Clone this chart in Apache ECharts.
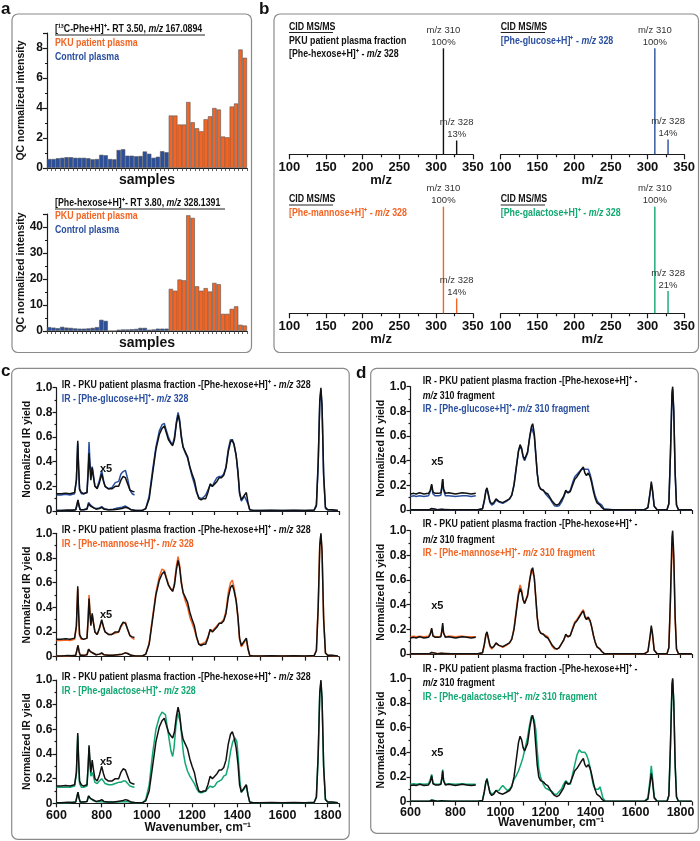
<!DOCTYPE html>
<html><head><meta charset="utf-8">
<script src="https://cdn.jsdelivr.net/npm/echarts@6/dist/echarts.min.js"></script>
<style>html,body{margin:0;padding:0;background:#fff}#c{width:700px;height:841px}</style>
</head><body><div id="c"></div><script>
// ---------------- DATA ----------------
// Panel a: QC-normalized intensities per sample
const sampleLabels = ['C1','C2','C3','C4','C5','C6','C7','C8','C9','C10','C11','C12','C13','C14','C15','C16','C17','C18','C19','C20','C21','C22','C23','C24','C25','C26','C27','C28',
  'P1','P2','P3','P4','P5','P6','P7','P8','P9','P10','P11','P12','P13','P14','P15','P16','P17','P18'];
const controlPhe13C = [0.6,0.6,0.65,0.68,0.72,0.72,0.68,0.68,0.68,0.65,0.58,0.6,0.88,0.85,0.6,0.58,1.2,1.25,0.82,0.82,0.78,0.8,1.1,0.95,0.68,0.75,1.12,1.05];
const pkuPhe13C = [3.5,3.5,2.9,2.9,4.4,3.05,2.65,2.45,3.25,3.45,4.0,3.9,2.1,2.05,4.1,4.3,7.9,7.35];
const controlHexose = [1.5,1.3,1.1,1.6,1.3,1.2,1.0,0.9,0.9,1.0,1.2,1.5,4.3,3.9,0,0,0.5,0.6,0.6,0.7,0.8,1.2,1.2,0.5,0.6,0.9,0.9,0.9];
const pkuHexose = [16.2,15.5,19.8,19.5,44.5,43.5,17.2,15.5,16.5,15.2,18.5,18,6.6,6.6,8.5,9.5,2.4,2.1];

// Panel b: CID MS/MS peaks [m/z, relative %]
const msHexose = [[310,100],[328,13]];
const msGlucose = [[310,100],[328,14]];
const msMannose = [[310,100],[328,14]];
const msGalactose = [[310,100],[328,21]];

// Panel c: IR spectra of m/z 328 [wavenumber, normalized yield]
const hexose328 = [[600,0.005],[620,0.005],[650,0.008],[670,0.006],[685,0.01],[690,0.05],[695,0.09],[700,0.04],[705,0.01],[720,0.01],[735,0.015],[742,0.06],[745,0.07],[750,0.04],[758,0.045],[765,0.025],[775,0.015],[790,0.02],[800,0.03],[810,0.015],[830,0.01],[850,0.01],[870,0.015],[890,0.02],[905,0.03],[915,0.025],[930,0.01],[950,0.005],[980,0.005],[995,0.02],[1010,0.1],[1025,0.3],[1040,0.5],[1055,0.62],[1067,0.67],[1077,0.69],[1085,0.64],[1095,0.58],[1105,0.55],[1114,0.53],[1122,0.58],[1130,0.7],[1138,0.78],[1145,0.72],[1152,0.6],[1160,0.52],[1170,0.48],[1180,0.44],[1190,0.36],[1200,0.3],[1210,0.25],[1220,0.16],[1230,0.1],[1240,0.09],[1250,0.1],[1260,0.1],[1270,0.15],[1280,0.22],[1290,0.2],[1300,0.22],[1310,0.24],[1320,0.27],[1330,0.27],[1340,0.29],[1350,0.35],[1360,0.48],[1370,0.56],[1378,0.58],[1385,0.54],[1395,0.45],[1403,0.32],[1410,0.15],[1418,0.09],[1425,0.1],[1432,0.13],[1440,0.15],[1447,0.07],[1455,0.01],[1470,0.005],[1500,0.005],[1550,0.006],[1600,0.005],[1650,0.006],[1700,0.005],[1740,0.008],[1750,0.05],[1758,0.4],[1765,0.9],[1770,1.0],[1775,0.85],[1782,0.3],[1790,0.03],[1800,0.01],[1820,0.01],[1845,0.005]];
const hexose328x5 = [[600,0.14],[620,0.14],[640,0.145],[660,0.14],[680,0.15],[688,0.25],[694,0.57],[698,0.35],[702,0.18],[710,0.15],[720,0.14],[735,0.15],[740,0.3],[744,0.47],[748,0.35],[752,0.25],[758,0.35],[763,0.28],[770,0.2],[780,0.18],[790,0.23],[800,0.3],[808,0.24],[815,0.2],[830,0.18],[845,0.18],[860,0.2],[875,0.2],[885,0.25],[895,0.28],[905,0.27],[915,0.22],[925,0.17],[935,0.16],[945,0.155]];
const glucose328 = [[600,0.005],[650,0.005],[685,0.01],[690,0.04],[695,0.085],[700,0.04],[705,0.01],[720,0.01],[735,0.02],[742,0.07],[745,0.085],[750,0.05],[758,0.045],[765,0.025],[775,0.02],[790,0.025],[800,0.035],[810,0.02],[830,0.01],[850,0.015],[870,0.025],[890,0.03],[905,0.04],[915,0.03],[930,0.01],[950,0.005],[980,0.005],[995,0.02],[1010,0.12],[1025,0.33],[1040,0.52],[1055,0.65],[1067,0.7],[1077,0.71],[1085,0.66],[1095,0.6],[1105,0.56],[1114,0.54],[1122,0.6],[1130,0.72],[1138,0.8],[1145,0.74],[1152,0.62],[1160,0.52],[1170,0.47],[1180,0.43],[1190,0.35],[1200,0.28],[1210,0.22],[1220,0.15],[1230,0.11],[1240,0.1],[1250,0.11],[1260,0.13],[1270,0.17],[1280,0.21],[1290,0.2],[1300,0.24],[1310,0.27],[1320,0.28],[1330,0.28],[1340,0.3],[1350,0.36],[1360,0.5],[1370,0.58],[1378,0.59],[1385,0.55],[1395,0.45],[1403,0.3],[1410,0.14],[1418,0.08],[1425,0.09],[1432,0.12],[1440,0.13],[1447,0.06],[1455,0.01],[1470,0.005],[1550,0.004],[1650,0.005],[1740,0.006],[1750,0.04],[1758,0.38],[1765,0.88],[1770,0.98],[1775,0.85],[1782,0.28],[1790,0.02],[1800,0.01],[1845,0.004]];
const glucose328x5 = [[600,0.13],[620,0.13],[640,0.135],[660,0.13],[680,0.14],[688,0.25],[694,0.55],[698,0.33],[702,0.17],[710,0.14],[720,0.14],[735,0.15],[740,0.35],[744,0.56],[748,0.4],[752,0.3],[758,0.36],[763,0.3],[770,0.2],[780,0.19],[790,0.25],[800,0.33],[808,0.25],[815,0.2],[830,0.18],[845,0.19],[860,0.23],[875,0.24],[885,0.3],[895,0.32],[905,0.33],[915,0.26],[925,0.17],[935,0.14],[945,0.13]];
const mannose328 = [[600,0.005],[650,0.005],[685,0.01],[690,0.05],[695,0.09],[700,0.04],[705,0.01],[720,0.01],[735,0.015],[742,0.06],[745,0.075],[750,0.04],[758,0.04],[765,0.025],[775,0.015],[790,0.02],[800,0.025],[810,0.015],[830,0.01],[850,0.01],[870,0.015],[890,0.02],[905,0.03],[915,0.025],[930,0.01],[950,0.005],[980,0.005],[995,0.02],[1010,0.11],[1025,0.32],[1040,0.52],[1055,0.65],[1067,0.71],[1077,0.7],[1085,0.65],[1095,0.59],[1105,0.55],[1114,0.53],[1122,0.6],[1130,0.73],[1138,0.81],[1145,0.74],[1152,0.62],[1160,0.52],[1170,0.45],[1180,0.4],[1190,0.32],[1200,0.27],[1210,0.22],[1220,0.15],[1230,0.1],[1240,0.1],[1250,0.11],[1260,0.12],[1270,0.16],[1280,0.22],[1290,0.21],[1300,0.23],[1310,0.25],[1320,0.27],[1330,0.28],[1340,0.3],[1350,0.37],[1360,0.52],[1370,0.6],[1378,0.62],[1385,0.57],[1395,0.46],[1403,0.31],[1410,0.14],[1418,0.08],[1425,0.09],[1432,0.12],[1440,0.14],[1447,0.06],[1455,0.01],[1470,0.005],[1550,0.005],[1650,0.005],[1740,0.006],[1750,0.05],[1758,0.42],[1765,0.92],[1770,0.99],[1775,0.86],[1782,0.32],[1790,0.03],[1800,0.01],[1845,0.005]];
const mannose328x5 = [[600,0.13],[620,0.13],[640,0.135],[660,0.13],[680,0.14],[688,0.24],[694,0.55],[698,0.34],[702,0.17],[710,0.14],[720,0.14],[735,0.15],[740,0.32],[744,0.5],[748,0.37],[752,0.27],[758,0.34],[763,0.28],[770,0.2],[780,0.18],[790,0.23],[800,0.29],[808,0.24],[815,0.2],[830,0.18],[845,0.18],[860,0.19],[875,0.2],[885,0.24],[895,0.27],[905,0.28],[915,0.22],[925,0.17],[935,0.15],[945,0.14]];
const galactose328 = [[600,0.005],[650,0.005],[685,0.01],[690,0.05],[695,0.09],[700,0.04],[705,0.01],[720,0.01],[735,0.015],[742,0.06],[745,0.07],[750,0.04],[758,0.03],[765,0.02],[775,0.012],[790,0.012],[800,0.015],[810,0.01],[830,0.008],[850,0.008],[870,0.01],[890,0.012],[905,0.015],[915,0.012],[930,0.008],[950,0.005],[980,0.005],[995,0.03],[1010,0.15],[1025,0.4],[1040,0.6],[1055,0.7],[1067,0.74],[1075,0.75],[1082,0.72],[1090,0.62],[1100,0.5],[1107,0.42],[1114,0.38],[1120,0.45],[1128,0.62],[1136,0.73],[1142,0.74],[1148,0.66],[1155,0.52],[1162,0.4],[1170,0.32],[1180,0.26],[1190,0.22],[1200,0.19],[1210,0.16],[1220,0.12],[1230,0.09],[1240,0.085],[1250,0.09],[1260,0.1],[1270,0.12],[1280,0.14],[1290,0.13],[1300,0.14],[1310,0.17],[1320,0.18],[1330,0.19],[1340,0.22],[1350,0.23],[1360,0.3],[1370,0.42],[1380,0.5],[1390,0.53],[1398,0.5],[1405,0.35],[1412,0.17],[1418,0.09],[1425,0.09],[1432,0.12],[1440,0.15],[1447,0.07],[1455,0.01],[1470,0.005],[1550,0.005],[1650,0.005],[1740,0.006],[1750,0.05],[1758,0.4],[1765,0.9],[1770,0.98],[1775,0.84],[1782,0.3],[1790,0.03],[1800,0.01],[1845,0.005]];
const galactose328x5 = [[600,0.13],[620,0.13],[640,0.13],[660,0.13],[680,0.14],[688,0.24],[694,0.55],[698,0.33],[702,0.16],[710,0.13],[720,0.13],[735,0.14],[740,0.3],[744,0.45],[748,0.32],[752,0.22],[758,0.25],[763,0.22],[770,0.17],[780,0.16],[790,0.18],[800,0.2],[808,0.18],[815,0.16],[830,0.15],[845,0.15],[860,0.16],[875,0.17],[885,0.17],[895,0.18],[905,0.18],[915,0.16],[925,0.14],[935,0.135],[945,0.13]];

// Panel d: IR spectra of m/z 310 fragment
const hexose310 = [[600,0.002],[650,0.002],[685,0.003],[690,0.008],[694,0.012],[698,0.005],[720,0.003],[738,0.006],[743,0.016],[748,0.005],[780,0.002],[850,0.002],[900,0.002],[920,0.01],[928,0.08],[935,0.16],[940,0.18],[946,0.13],[953,0.07],[961,0.05],[970,0.06],[980,0.09],[986,0.09],[993,0.07],[1000,0.06],[1010,0.06],[1020,0.07],[1030,0.08],[1040,0.09],[1050,0.12],[1060,0.2],[1070,0.34],[1080,0.48],[1087,0.53],[1094,0.5],[1100,0.44],[1107,0.41],[1112,0.4],[1120,0.47],[1130,0.6],[1138,0.68],[1143,0.7],[1150,0.62],[1157,0.45],[1163,0.3],[1170,0.2],[1178,0.17],[1190,0.16],[1200,0.14],[1210,0.13],[1220,0.1],[1230,0.07],[1240,0.05],[1250,0.04],[1260,0.05],[1270,0.08],[1280,0.11],[1290,0.16],[1300,0.14],[1310,0.15],[1320,0.2],[1330,0.25],[1340,0.27],[1350,0.3],[1360,0.33],[1368,0.35],[1375,0.3],[1382,0.28],[1390,0.3],[1398,0.27],[1405,0.22],[1413,0.15],[1420,0.1],[1428,0.06],[1435,0.05],[1442,0.04],[1450,0.02],[1460,0.005],[1500,0.002],[1600,0.002],[1640,0.003],[1655,0.02],[1665,0.15],[1670,0.23],[1675,0.17],[1683,0.03],[1695,0.004],[1740,0.003],[1748,0.05],[1755,0.45],[1762,0.95],[1765,1.0],[1770,0.8],[1776,0.3],[1782,0.04],[1790,0.005],[1850,0.002]];
const hexose310x5 = [[600,0.13],[615,0.135],[625,0.13],[640,0.14],[660,0.13],[680,0.135],[688,0.16],[694,0.21],[700,0.145],[710,0.135],[725,0.135],[735,0.14],[740,0.2],[743,0.25],[747,0.17],[755,0.135],[770,0.14],[800,0.13],[830,0.14],[850,0.135],[870,0.13],[890,0.135]];
const glucose310 = [[600,0.002],[650,0.002],[685,0.003],[690,0.007],[694,0.01],[698,0.004],[720,0.003],[738,0.005],[743,0.014],[748,0.004],[780,0.002],[850,0.002],[900,0.002],[920,0.01],[928,0.07],[935,0.15],[940,0.17],[946,0.12],[953,0.06],[961,0.04],[970,0.05],[980,0.08],[986,0.085],[993,0.065],[1000,0.055],[1010,0.055],[1020,0.065],[1030,0.075],[1040,0.09],[1050,0.12],[1060,0.21],[1070,0.35],[1080,0.48],[1087,0.52],[1094,0.49],[1100,0.43],[1107,0.4],[1112,0.39],[1120,0.46],[1130,0.59],[1138,0.67],[1143,0.68],[1150,0.6],[1157,0.44],[1163,0.3],[1170,0.2],[1178,0.17],[1190,0.16],[1200,0.13],[1210,0.11],[1220,0.09],[1230,0.06],[1240,0.035],[1250,0.03],[1260,0.035],[1270,0.06],[1280,0.1],[1290,0.15],[1300,0.14],[1310,0.16],[1320,0.22],[1330,0.27],[1340,0.29],[1350,0.31],[1360,0.33],[1368,0.34],[1375,0.33],[1382,0.32],[1390,0.33],[1398,0.29],[1405,0.24],[1413,0.17],[1420,0.12],[1428,0.08],[1435,0.06],[1442,0.05],[1450,0.04],[1460,0.01],[1500,0.002],[1600,0.002],[1640,0.003],[1655,0.02],[1665,0.14],[1670,0.21],[1675,0.16],[1683,0.03],[1695,0.004],[1740,0.003],[1748,0.05],[1755,0.44],[1762,0.93],[1765,0.98],[1770,0.79],[1776,0.3],[1782,0.04],[1790,0.005],[1850,0.002]];
const glucose310x5 = [[600,0.11],[615,0.115],[625,0.11],[640,0.115],[660,0.11],[680,0.115],[688,0.15],[694,0.2],[700,0.13],[710,0.115],[725,0.115],[735,0.12],[740,0.19],[743,0.25],[747,0.16],[755,0.115],[770,0.115],[800,0.11],[830,0.115],[850,0.115],[870,0.11],[890,0.115]];
const mannose310 = [[600,0.002],[650,0.002],[685,0.003],[690,0.008],[694,0.012],[698,0.005],[720,0.003],[738,0.006],[743,0.015],[748,0.005],[780,0.002],[850,0.002],[900,0.002],[920,0.01],[928,0.07],[935,0.15],[940,0.17],[946,0.12],[953,0.06],[961,0.04],[970,0.06],[980,0.085],[986,0.09],[993,0.07],[1000,0.055],[1010,0.055],[1020,0.065],[1030,0.075],[1040,0.09],[1050,0.12],[1060,0.21],[1070,0.36],[1080,0.5],[1087,0.56],[1094,0.52],[1100,0.45],[1107,0.41],[1112,0.4],[1120,0.48],[1130,0.61],[1138,0.69],[1143,0.7],[1150,0.62],[1157,0.45],[1163,0.3],[1170,0.2],[1178,0.17],[1190,0.16],[1200,0.15],[1210,0.14],[1220,0.1],[1230,0.06],[1240,0.04],[1250,0.04],[1260,0.05],[1270,0.08],[1280,0.11],[1290,0.15],[1300,0.14],[1310,0.15],[1320,0.21],[1330,0.26],[1340,0.28],[1350,0.31],[1360,0.34],[1368,0.36],[1375,0.31],[1382,0.29],[1390,0.3],[1398,0.27],[1405,0.22],[1413,0.15],[1420,0.1],[1428,0.06],[1435,0.05],[1442,0.04],[1450,0.02],[1460,0.005],[1500,0.002],[1600,0.002],[1640,0.003],[1655,0.02],[1665,0.14],[1670,0.21],[1675,0.16],[1683,0.03],[1695,0.004],[1740,0.003],[1748,0.05],[1755,0.42],[1762,0.85],[1765,0.88],[1770,0.75],[1776,0.28],[1782,0.04],[1790,0.005],[1850,0.002]];
const mannose310x5 = [[600,0.14],[615,0.145],[625,0.14],[640,0.145],[660,0.14],[680,0.145],[688,0.17],[694,0.2],[700,0.15],[710,0.14],[725,0.14],[735,0.145],[740,0.19],[743,0.23],[747,0.17],[755,0.14],[770,0.145],[800,0.14],[830,0.145],[850,0.14],[870,0.14],[890,0.14]];
const galactose310 = [[600,0.002],[650,0.002],[685,0.003],[690,0.01],[694,0.014],[698,0.005],[720,0.003],[738,0.006],[743,0.018],[748,0.005],[780,0.002],[850,0.002],[900,0.002],[920,0.01],[928,0.08],[935,0.16],[940,0.19],[946,0.13],[953,0.08],[961,0.06],[970,0.07],[980,0.09],[986,0.1],[993,0.09],[1000,0.11],[1010,0.13],[1020,0.11],[1030,0.09],[1040,0.1],[1050,0.13],[1060,0.18],[1070,0.21],[1080,0.25],[1090,0.3],[1100,0.36],[1110,0.44],[1120,0.52],[1130,0.63],[1138,0.7],[1143,0.71],[1150,0.66],[1157,0.58],[1163,0.42],[1170,0.27],[1178,0.2],[1190,0.14],[1200,0.11],[1210,0.1],[1220,0.09],[1230,0.08],[1240,0.06],[1250,0.06],[1260,0.08],[1270,0.1],[1280,0.14],[1290,0.17],[1300,0.15],[1310,0.14],[1320,0.22],[1330,0.3],[1340,0.38],[1350,0.42],[1360,0.4],[1368,0.41],[1375,0.4],[1382,0.38],[1390,0.34],[1398,0.28],[1405,0.2],[1413,0.13],[1420,0.1],[1428,0.09],[1435,0.1],[1442,0.12],[1448,0.08],[1455,0.03],[1465,0.005],[1500,0.002],[1600,0.002],[1640,0.003],[1655,0.03],[1665,0.19],[1670,0.29],[1675,0.2],[1683,0.04],[1695,0.004],[1740,0.003],[1748,0.05],[1755,0.44],[1762,0.94],[1765,0.99],[1770,0.8],[1776,0.3],[1782,0.04],[1790,0.005],[1850,0.002]];
const galactose310x5 = [[600,0.14],[615,0.145],[625,0.14],[640,0.145],[660,0.14],[680,0.145],[688,0.18],[694,0.22],[700,0.15],[710,0.14],[725,0.14],[735,0.145],[740,0.2],[743,0.26],[747,0.17],[755,0.14],[770,0.145],[800,0.14],[830,0.145],[850,0.14],[870,0.14],[890,0.14]];

// ---------------- STYLE ----------------
const FONT = "'Liberation Sans', Arial, sans-serif";
const SX = 0.8; // horizontal condensing of annotation text
const BLUE = '#2a4f9f', ORANGE = '#f26524', GREEN = '#12a872', BLACK = '#111111';
const AX = {color: '#1a1a1a', width: 1.2};

const grids = [], xAxes = [], yAxes = [], series = [], graphics = [];

function boldLabel(size, extra) { return Object.assign({fontWeight: 'bold', fontSize: size, fontFamily: FONT, color: '#111'}, extra || {}); }

// ----- Panel a -----
function barGrid(top, height, yMax, yInterval, ctrl, pku) {
  const gi = grids.length;
  grids.push({left: 47, top: top, width: 200, height: height});
  xAxes.push({gridIndex: gi, type: 'category', data: sampleLabels, boundaryGap: true,
    axisLine: {show: true, lineStyle: AX}, axisTick: {show: true, interval: 0, length: 3, lineStyle: {color: '#333', width: 0.8}},
    axisLabel: {show: false}, splitLine: {show: false},
    name: 'samples', nameLocation: 'middle', nameGap: 5, nameMoveOverlap: false, nameTextStyle: boldLabel(14)});
  yAxes.push({gridIndex: gi, type: 'value', min: 0, max: yMax, interval: yInterval,
    axisLine: {show: true, lineStyle: AX}, axisTick: {show: true, length: 4, lineStyle: AX},
    minorTick: {show: true, splitNumber: 2, length: 2, lineStyle: AX}, splitLine: {show: false},
    axisLabel: boldLabel(12, {margin: 4, showMaxLabel: false}),
    name: 'QC normalized intensity', nameLocation: 'middle', nameRotate: 90, nameGap: 20, nameMoveOverlap: false, nameTextStyle: boldLabel(10.5)});
  const ctrlData = ctrl.concat(pku.map(() => '-'));
  const pkuData = ctrl.map(() => '-').concat(pku);
  series.push({type: 'bar', xAxisIndex: gi, yAxisIndex: gi, data: ctrlData, barCategoryGap: '0%', barGap: '-100%',
    itemStyle: {color: BLUE, borderColor: '#555', borderWidth: 0.6}, silent: true});
  series.push({type: 'bar', xAxisIndex: gi, yAxisIndex: gi, data: pkuData, barCategoryGap: '0%', barGap: '-100%',
    itemStyle: {color: ORANGE, borderColor: '#555', borderWidth: 0.6}, silent: true});
}
barGrid(33, 135, 9, 2, controlPhe13C, pkuPhe13C);
barGrid(214, 117, 45, 10, controlHexose, pkuHexose);

// ----- Panel b -----
function msGrid(left, top, height, peaks, color) {
  const gi = grids.length;
  grids.push({left: left, top: top, width: 183.5, height: height});
  xAxes.push({gridIndex: gi, type: 'value', min: 100, max: 350, interval: 50,
    axisLine: {show: true, onZero: false, lineStyle: AX}, axisTick: {show: true, length: 5, lineStyle: AX},
    minorTick: {show: true, splitNumber: 2, length: 3, lineStyle: AX}, splitLine: {show: false},
    axisLabel: boldLabel(13, {margin: 7, formatter: v => String(v)}),
    name: 'm/z', nameLocation: 'middle', nameGap: 20, nameMoveOverlap: false, nameTextStyle: boldLabel(13)});
  yAxes.push({gridIndex: gi, type: 'value', min: 0, max: 100, show: false, splitLine: {show: false}});
  series.push({type: 'bar', xAxisIndex: gi, yAxisIndex: gi, data: peaks, barWidth: 1.4,
    itemStyle: {color: color}, silent: true,
    label: {show: true, position: 'top', distance: 0, fontSize: 9.5, fontFamily: FONT, color: '#333', lineHeight: 12,
      formatter: p => 'm/z ' + p.value[0] + '\n' + p.value[1] + '%'}});
}
msGrid(289.3, 48.3, 106, msHexose, BLACK);
msGrid(500.7, 48.3, 106, msGlucose, BLUE);
msGrid(289.3, 206.7, 106.6, msMannose, ORANGE);
msGrid(500.7, 206.7, 106.6, msGalactose, GREEN);

// ----- Panels c & d -----
function irGrid(left, top, width, height, bottom, labelMargin, nameGap) {
  const gi = grids.length;
  grids.push({left: left, top: top, width: width, height: height});
  xAxes.push({gridIndex: gi, type: 'value', min: 600, max: 1850, interval: 200,
    axisLine: {show: true, onZero: false, lineStyle: AX}, axisTick: {show: true, length: 4, lineStyle: AX},
    minorTick: {show: true, splitNumber: 2, length: 4, lineStyle: AX}, splitLine: {show: false},
    axisLabel: boldLabel(12.5, {show: bottom, margin: labelMargin, showMaxLabel: false, formatter: v => String(v)}),
    name: bottom ? 'Wavenumber, cm⁻¹' : '', nameLocation: 'middle', nameGap: nameGap, nameMoveOverlap: false, nameTextStyle: boldLabel(12)});
  yAxes.push({gridIndex: gi, type: 'value', min: 0, max: 1, interval: 0.2,
    axisLine: {show: true, lineStyle: AX}, axisTick: {show: true, length: 4, lineStyle: AX},
    minorTick: {show: true, splitNumber: 2, length: 2, lineStyle: AX}, splitLine: {show: false},
    axisLabel: boldLabel(12, {margin: 4, formatter: v => v === 0 ? '0' : v.toFixed(1)}),
    name: 'Normalized IR yield', nameLocation: 'middle', nameRotate: 90, nameGap: 24, nameMoveOverlap: false, nameTextStyle: boldLabel(10.5)});
  return gi;
}
function irLine(gi, data, color) {
  series.push({type: 'line', xAxisIndex: gi, yAxisIndex: gi, data: data, showSymbol: false, symbol: 'none',
    lineStyle: {color: color, width: 1.5}, silent: true, z: color === BLACK ? 3 : 2});
}
const cSets = [[glucose328, glucose328x5, BLUE, 387.7], [mannose328, mannose328x5, ORANGE, 533.3], [galactose328, galactose328x5, GREEN, 680]];
cSets.forEach((s, k) => {
  const gi = irGrid(56.5, s[3], 282.5, 123.3, k === 2, 6, 18);
  irLine(gi, s[0], s[2]); irLine(gi, s[1], s[2]);
  irLine(gi, hexose328, BLACK); irLine(gi, hexose328x5, BLACK);
});
const dSets = [[glucose310, glucose310x5, BLUE, 386.7], [mannose310, mannose310x5, ORANGE, 530.7], [galactose310, galactose310x5, GREEN, 678.3]];
dSets.forEach((s, k) => {
  const gi = irGrid(410.5, s[3], 281.3, 123.3, k === 2, 4, 15);
  irLine(gi, s[0], s[2]); irLine(gi, s[1], s[2]);
  irLine(gi, hexose310, BLACK); irLine(gi, hexose310x5, BLACK);
});

// ---------------- ANNOTATIONS ----------------
function box(x, y, w, h) {
  graphics.push({type: 'rect', shape: {x: x, y: y, width: w, height: h, r: 6}, style: {fill: 'none', stroke: '#8a8a8a', lineWidth: 1.2}, silent: true});
}
function txt(x, y, text, color, size, align, sx) {
  const f = 'bold ' + size + 'px ' + FONT;
  graphics.push({type: 'text', x: x, y: y, scaleX: sx === undefined ? SX : sx, silent: true, z: 10,
    style: {text: text, fill: color, font: f, verticalAlign: 'middle', align: align || 'left',
      rich: {i: {font: 'italic bold ' + size + 'px ' + FONT, fill: color}, n: {font: f, fill: color}}}});
}
function uline(x1, x2, y) {
  graphics.push({type: 'line', shape: {x1: x1, y1: y, x2: x2, y2: y}, style: {stroke: '#222', lineWidth: 1}, silent: true});
}
box(12, 14, 239.5, 338.5);
box(274, 14, 424.5, 338.5);
box(11.7, 368.3, 337.5, 471);
box(370.7, 368.3, 327.6, 465);
txt(1, 9, 'a', '#111', 17, 'left', 1); txt(259, 9, 'b', '#111', 17, 'left', 1);
txt(1, 371, 'c', '#111', 17, 'left', 1); txt(356, 373, 'd', '#111', 17, 'left', 1);

// panel a
txt(55, 29, '{n|[¹³C-Phe+H]⁺- RT 3.50, }{i|m/z}{n| 167.0894}', '#111', 11); uline(55, 205, 35);
txt(55, 43, 'PKU patient plasma', ORANGE, 11);
txt(55, 57, 'Control plasma', BLUE, 11);
txt(55, 203, '{n|[Phe-hexose+H]⁺- RT 3.80, }{i|m/z}{n| 328.1391}', '#111', 11); uline(55, 225, 209);
txt(55, 216, 'PKU patient plasma', ORANGE, 11);
txt(55, 230, 'Control plasma', BLUE, 11);

// panel b
txt(289, 26.7, 'CID MS/MS', '#111', 11); uline(289, 333, 32.5);
txt(289, 40.7, 'PKU patient plasma fraction', '#111', 11);
txt(289, 54.3, '{n|[Phe-hexose+H]⁺ - }{i|m/z}{n| 328}', '#111', 11);
txt(500.7, 26.7, 'CID MS/MS', '#111', 11); uline(500.7, 545, 32.5);
txt(500.7, 40.7, '{n|[Phe-glucose+H]⁺ - }{i|m/z}{n| 328}', BLUE, 11);
txt(289, 199.3, 'CID MS/MS', '#111', 11); uline(289, 333, 205);
txt(289, 212.7, '{n|[Phe-mannose+H]⁺ - }{i|m/z}{n| 328}', ORANGE, 11);
txt(500.7, 199.3, 'CID MS/MS', '#111', 11); uline(500.7, 545, 205);
txt(500.7, 212.7, '{n|[Phe-galactose+H]⁺ - }{i|m/z}{n| 328}', GREEN, 11);

// panel c
const cNames = [['glucose', BLUE], ['mannose', ORANGE], ['galactose', GREEN]];
cSets.forEach((s, k) => {
  const t = s[3];
  txt(61.7, t - 3, '{n|IR - PKU patient plasma fraction -[Phe-hexose+H]⁺ - }{i|m/z}{n| 328}', '#111', 11);
  txt(61.7, t + 11, '{n|IR - [Phe-' + cNames[k][0] + '+H]⁺- }{i|m/z}{n| 328}', cNames[k][1], 11);
  txt(106, t + 81.5, 'x5', '#111', 11, 'center', 1);
});
// panel d
const dOff = [[-6, 9.3, 22.6], [-6.7, 9.3, 22.6], [-9.3, 5, 19]];
dSets.forEach((s, k) => {
  const t = s[3], o = dOff[k];
  txt(422.7, t + o[0], 'IR - PKU patient plasma fraction -[Phe-hexose+H]⁺ -', '#111', 11);
  txt(422.7, t + o[1], '{i|m/z}{n| 310 fragment}', '#111', 11);
  txt(422.7, t + o[2], '{n|IR - [Phe-' + cNames[k][0] + '+H]⁺- }{i|m/z}{n| 310 fragment}', cNames[k][1], 11);
  txt(437.3, t + 75, 'x5', '#111', 11, 'center', 1);
});

const chart = echarts.init(document.getElementById('c'), null, {renderer: 'canvas'});
chart.setOption({
  animation: false,
  backgroundColor: '#fff',
  grid: grids, xAxis: xAxes, yAxis: yAxes, series: series, graphic: graphics
});
</script></body></html>
